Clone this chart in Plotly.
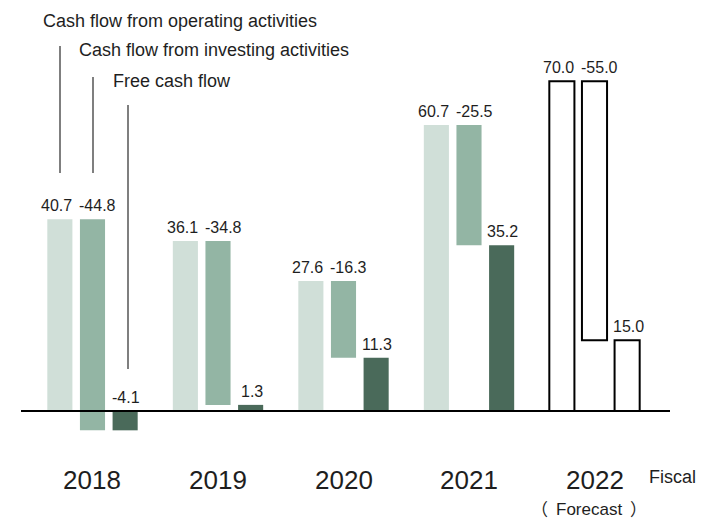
import plotly.graph_objects as go

# Fiscal years and cash flow figures (billion yen)
years = [2018, 2019, 2020, 2021]
operating = [40.7, 36.1, 27.6, 60.7]
investing = [-44.8, -34.8, -16.3, -25.5]
free_cf = [-4.1, 1.3, 11.3, 35.2]

forecast_year = 2022
forecast_operating = 70.0
forecast_investing = -55.0
forecast_free_cf = 15.0

series_names = [
    "Cash flow from operating activities",
    "Cash flow from investing activities",
    "Free cash flow",
]
year_labels = ["2018", "2019", "2020", "2021", "2022"]
forecast_word = "Forecast"
unit_label = "Fiscal"

W, H = 719, 520
FONT = "Liberation Sans, Arial, sans-serif"
CJK = "Noto Sans CJK JP"
TXT = "#1e1e1e"
C_OP, C_INV, C_FCF = "#d0dfd8", "#93b5a4", "#4a6a5a"

OFF = 0.26      # offset of each bar from the group centre
BW = 0.2        # bar width in x units
X0, X1 = 2017.263, 2022.992
Y0, Y1 = -23.14, 87.26


def px_x(p):
    return p / W


def px_y(p):
    return 1 - p / H


fig = go.Figure()

# Actual results: operating from 0, investing hanging down from operating, FCF from 0
fig.add_trace(go.Bar(x=[y - OFF for y in years], y=operating, base=[0] * len(years),
                     width=BW, marker=dict(color=C_OP, line=dict(width=0)),
                     name=series_names[0]))
fig.add_trace(go.Bar(x=list(years), y=investing, base=operating,
                     width=BW, marker=dict(color=C_INV, line=dict(width=0)),
                     name=series_names[1]))
fig.add_trace(go.Bar(x=[y + OFF for y in years], y=free_cf, base=[0] * len(years),
                     width=BW, marker=dict(color=C_FCF, line=dict(width=0)),
                     name=series_names[2]))

# Forecast year drawn as outlined bars
fig.add_trace(go.Bar(
    x=[forecast_year - OFF, forecast_year, forecast_year + OFF],
    y=[forecast_operating, forecast_investing, forecast_free_cf],
    base=[0, forecast_operating, 0],
    width=BW,
    marker=dict(color="white", line=dict(color="black", width=2)),
    name="Forecast",
))

# Value labels above each bar
all_years = years + [forecast_year]
ops = operating + [forecast_operating]
invs = investing + [forecast_investing]
fcfs = free_cf + [forecast_free_cf]
annotations = []
for yr, o, i, f in zip(all_years, ops, invs, fcfs):
    for xpos, top, val, dx in [(yr - OFF, max(o, 0), o, -3),
                               (yr, max(o, o + i), i, 5),
                               (yr + OFF, max(f, 0), f, 1)]:
        annotations.append(dict(
            x=xpos, y=top, xref="x", yref="y", text=f"{val:.1f}",
            showarrow=False, yanchor="bottom", yshift=3, xshift=dx,
            font=dict(family=FONT, size=16, color=TXT),
        ))

# Year labels along the bottom
for yr, lab in zip(all_years, year_labels):
    annotations.append(dict(
        x=yr, y=px_y(480), xref="x", yref="paper", text=lab, showarrow=False,
        yanchor="middle", font=dict(family=FONT, size=26, color=TXT),
    ))

# "（Forecast）" under the forecast year: word in Latin font, full-width brackets in CJK font
annotations.append(dict(
    x=px_x(589), y=px_y(509), xref="paper", yref="paper", text=forecast_word,
    showarrow=False, yanchor="middle", xanchor="center",
    font=dict(family=FONT, size=17, color=TXT),
))
annotations.append(dict(
    x=px_x(549), y=px_y(508), xref="paper", yref="paper", text="（",
    showarrow=False, yanchor="middle", xanchor="right", borderpad=0,
    font=dict(family=CJK, size=17, color=TXT),
))
annotations.append(dict(
    x=px_x(629), y=px_y(508), xref="paper", yref="paper", text="）",
    showarrow=False, yanchor="middle", xanchor="left", borderpad=0,
    font=dict(family=CJK, size=17, color=TXT),
))

annotations.append(dict(
    x=px_x(647), y=px_y(477), xref="paper", yref="paper", text=unit_label,
    showarrow=False, xanchor="left", yanchor="middle",
    font=dict(family=FONT, size=18, color=TXT),
))

# Series captions with leader lines down to the 2018 bars
caption_pos = [(41, 21), (77, 50), (111, 81)]
for name, (lx, ly) in zip(series_names, caption_pos):
    annotations.append(dict(
        x=px_x(lx), y=px_y(ly), xref="paper", yref="paper", text=name,
        showarrow=False, xanchor="left", yanchor="middle",
        font=dict(family=FONT, size=18, color=TXT),
    ))

shapes = []
leaders = [(60, 46, 173), (93, 77, 173), (128, 105, 369)]
for lx, ytop, ybot in leaders:
    shapes.append(dict(type="line", xref="paper", yref="paper",
                       x0=px_x(lx), x1=px_x(lx), y0=px_y(ytop), y1=px_y(ybot),
                       line=dict(color="#555555", width=1.5)))

# Zero baseline
shapes.append(dict(type="line", xref="paper", yref="y",
                   x0=px_x(21), x1=px_x(670), y0=0, y1=0,
                   line=dict(color="black", width=2.2), layer="above"))

fig.update_layout(
    width=W, height=H,
    margin=dict(l=0, r=0, t=0, b=0),
    paper_bgcolor="white", plot_bgcolor="white",
    barmode="overlay", showlegend=False,
    xaxis=dict(range=[X0, X1], visible=False, fixedrange=True),
    yaxis=dict(range=[Y0, Y1], visible=False, fixedrange=True),
    annotations=annotations, shapes=shapes,
    font=dict(family=FONT, color=TXT),
)

fig.write_html("out.html")
